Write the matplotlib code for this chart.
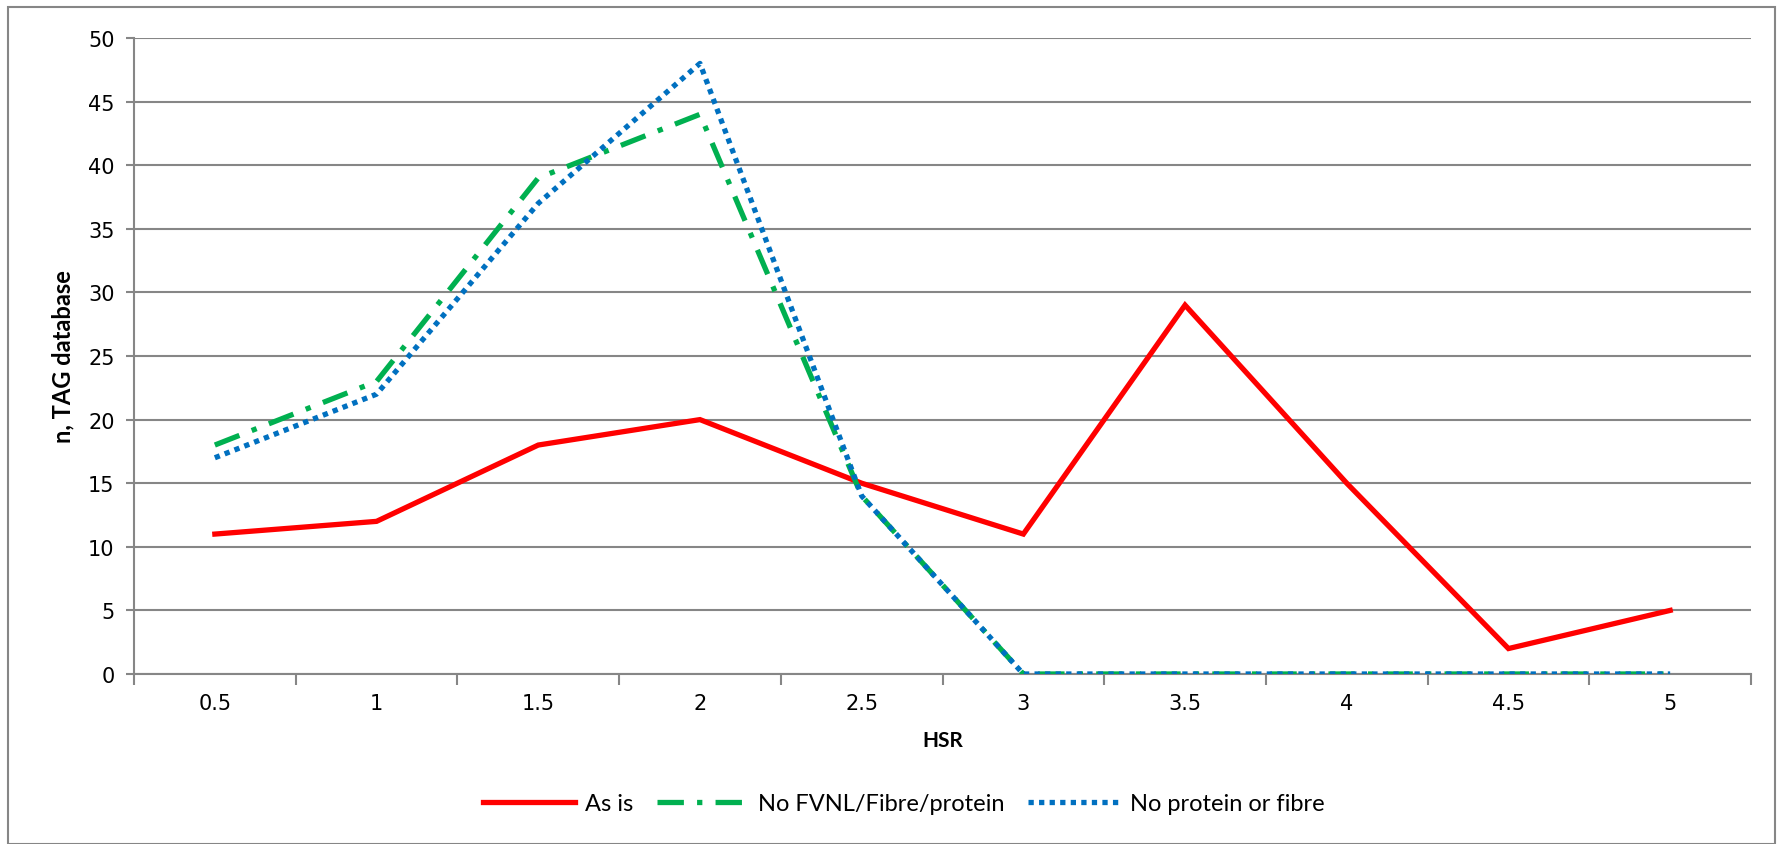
import matplotlib
matplotlib.use("Agg")
import matplotlib.pyplot as plt
from matplotlib.patches import Rectangle

# data
hsr = ["0.5", "1", "1.5", "2", "2.5", "3", "3.5", "4", "4.5", "5"]
as_is = [11, 12, 18, 20, 15, 11, 29, 15, 2, 5]
no_fvnl = [18, 23, 39, 44, 14, 0, 0, 0, 0, 0]
no_protein = [17, 22, 37, 48, 14, 0, 0, 0, 0, 0]

W, H = 1783, 845
fig = plt.figure(figsize=(W / 100, H / 100), dpi=100)
ax = fig.add_axes([134 / W, 1 - 675 / H, (1751 - 134) / W, (675 - 39) / H])

x = list(range(len(hsr)))
ax.plot(x, as_is, color="#ff0000", lw=3.8, solid_joinstyle="miter",
        label="As is", zorder=3)
ax.plot(x, no_fvnl, color="#00b050", lw=3.8, dashes=(5, 2.5, 1, 2.5),
        label="No FVNL/Fibre/protein", zorder=4)
ax.plot(x, no_protein, color="#0070c0", lw=3.8, dashes=(1, 1),
        label="No protein or fibre", zorder=5)

ax.set_xlim(-0.5, len(hsr) - 0.5)
ax.set_ylim(0, 50)
ax.set_yticks(range(0, 51, 5))
ax.set_xticks(x)
ax.set_xticklabels(hsr)
ax.set_xticks([i - 0.5 for i in range(len(hsr) + 1)], minor=True)

ax.grid(axis="y", color="#868686", lw=1.5)
ax.set_axisbelow(True)
for s in ["top", "right"]:
    ax.spines[s].set_visible(False)
for s in ["left", "bottom"]:
    ax.spines[s].set_color("#868686")
    ax.spines[s].set_linewidth(1.5)

ax.tick_params(axis="y", which="major", length=6, width=1.5, color="#868686",
               labelsize=15, pad=8)
ax.tick_params(axis="x", which="major", length=0, labelsize=15, pad=14)
ax.tick_params(axis="x", which="minor", length=8, width=1.5, color="#868686")

ax.set_xlabel("HSR", fontsize=15, fontweight="bold", family="Lato", labelpad=12)
ax.set_ylabel("n, TAG database", fontsize=17, fontweight="bold", family="Lato",
              labelpad=10)

leg = fig.legend(loc="center", bbox_to_anchor=(0.507, 1 - 805 / H), ncol=3,
                 frameon=False, prop={"family": "Lato", "size": 17},
                 handlelength=3.9, columnspacing=1.0, handletextpad=0.4)

fig.patches.append(Rectangle((8 / W, 0), (1775 - 8) / W, 1 - 8 / H,
                             transform=fig.transFigure, fill=False,
                             edgecolor="#868686", lw=1.5))

fig.savefig("out.png", dpi=100)
